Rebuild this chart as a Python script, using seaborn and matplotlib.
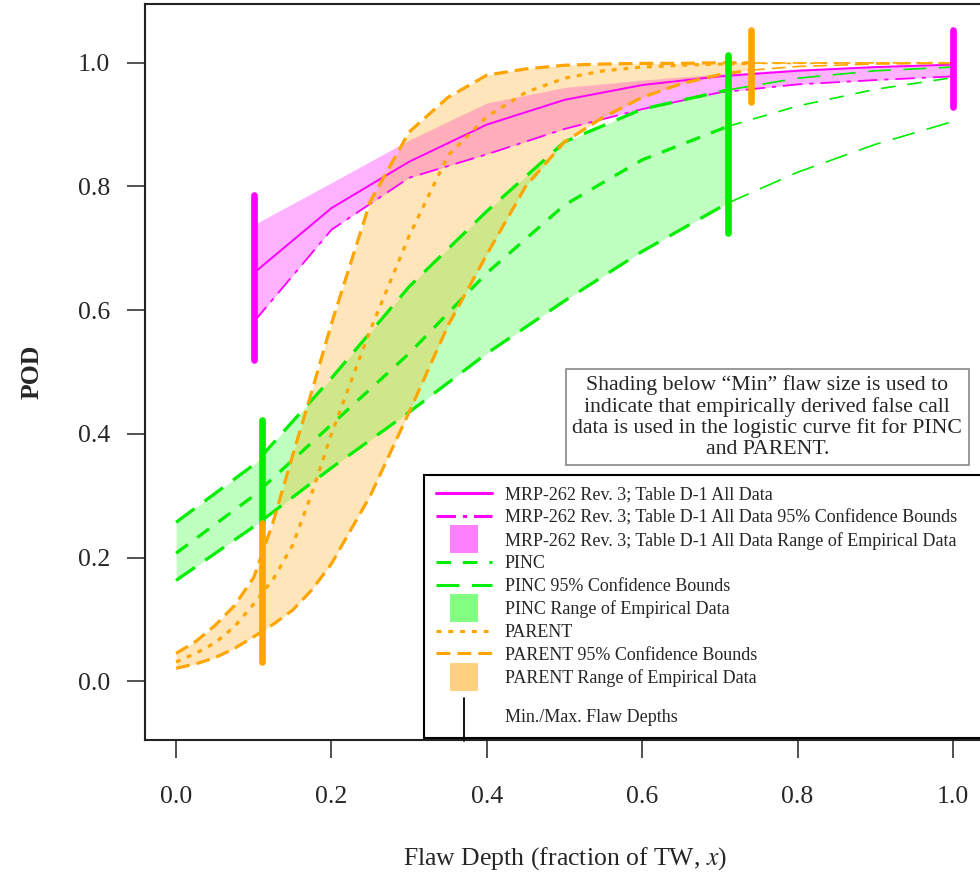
import numpy as np
import matplotlib
matplotlib.use("Agg")
import matplotlib.pyplot as plt
from matplotlib.lines import Line2D
from matplotlib.legend_handler import HandlerBase
import seaborn as sns

# ---------------- data ----------------
mrp_x = [0.1, 0.2, 0.3, 0.4, 0.5, 0.6, 0.7, 0.8, 0.9, 1.0]
mrp_fit = [0.660, 0.765, 0.840, 0.900, 0.940, 0.964, 0.978, 0.987, 0.993, 0.997]
mrp_lower = [0.581, 0.730, 0.814, 0.852, 0.893, 0.925, 0.952, 0.965, 0.972, 0.978]
mrp_upper = [0.738, 0.806, 0.875, 0.935, 0.960, 0.972, 0.982, 0.990, 0.995, 0.998]

pinc_x = [0.0, 0.1, 0.2, 0.3, 0.4, 0.5, 0.6, 0.71, 0.8, 0.9, 1.0]
pinc_fit = [0.207, 0.300, 0.415, 0.530, 0.660, 0.770, 0.843, 0.897, 0.930, 0.957, 0.976]
pinc_upper = [0.257, 0.350, 0.490, 0.638, 0.760, 0.872, 0.925, 0.956, 0.975, 0.987, 0.993]
pinc_lower = [0.163, 0.250, 0.345, 0.435, 0.530, 0.615, 0.695, 0.773, 0.823, 0.868, 0.905]

parent_x = [0.0, 0.025, 0.05, 0.075, 0.1, 0.125, 0.15, 0.175, 0.2, 0.25, 0.3, 0.35, 0.4, 0.45, 0.5,
            0.55, 0.6, 0.65, 0.7, 0.74, 0.8, 0.9, 1.0]
parent_fit = [0.031, 0.045, 0.062, 0.088, 0.125, 0.165, 0.220, 0.305, 0.400, 0.568, 0.720, 0.850, 0.913,
              0.952, 0.975, 0.987, 0.993, 0.996, 0.998, 0.999, 0.999, 1.000, 1.000]
parent_upper = [0.045, 0.064, 0.090, 0.122, 0.168, 0.258, 0.365, 0.470, 0.578, 0.776, 0.888, 0.944,
                0.980, 0.990, 0.996, 0.998, 0.999, 0.999, 1.000, 1.000, 1.000, 1.000, 1.000]
parent_lower = [0.021, 0.028, 0.038, 0.053, 0.072, 0.092, 0.115, 0.148, 0.190, 0.300, 0.435, 0.575,
                0.690, 0.800, 0.872, 0.912, 0.944, 0.966, 0.981, 0.988, 0.994, 0.998, 0.999]

# min / max flaw depth markers: x, low, high
mrp_minmax_x = [0.1, 1.0]
mrp_minmax_lo = [0.519, 0.929]
mrp_minmax_hi = [0.786, 1.053]
pinc_minmax_x = [0.111, 0.71]
pinc_minmax_lo = [0.256, 0.725]
pinc_minmax_hi = [0.422, 1.013]
parent_minmax_x = [0.111, 0.74]
parent_minmax_lo = [0.031, 0.937]
parent_minmax_hi = [0.256, 1.053]

pinc_max = 0.71
parent_max = 0.74

x_ticks = [0.0, 0.2, 0.4, 0.6, 0.8, 1.0]
y_ticks = [0.0, 0.2, 0.4, 0.6, 0.8, 1.0]

legend_labels = [
    "MRP-262 Rev. 3; Table D-1 All Data",
    "MRP-262 Rev. 3; Table D-1 All Data 95% Confidence Bounds",
    "MRP-262 Rev. 3; Table D-1 All Data Range of Empirical Data",
    "PINC",
    "PINC 95% Confidence Bounds",
    "PINC Range of Empirical Data",
    "PARENT",
    "PARENT 95% Confidence Bounds",
    "PARENT Range of Empirical Data",
    "\nMin./Max. Flaw Depths",
]
note_text = ("Shading below \u201cMin\u201d flaw size is used to\n"
             "indicate that empirically derived false call\n"
             "data is used in the logistic curve fit for PINC\n"
             "and PARENT.")

# ---------------- style ----------------
sns.set_style("ticks")
plt.rcParams['font.family'] = ['Liberation Serif', 'DejaVu Serif']
plt.rcParams['mathtext.fontset'] = 'stix'
plt.rcParams['lines.scale_dashes'] = False

MAG = '#FF00FF'
GRN = '#00EE00'
ORG = '#FFA500'

ls_mrp_fit = '-'
ls_mrp_cb = (0, (14, 5, 3, 5))
ls_pinc_fit = (0, (10.5, 8.5))
ls_pinc_cb = (0, (16.5, 9))
ls_par_fit = (0, (3.5, 5))
ls_par_cb = (0, (10, 5))

fig = plt.figure(figsize=(9.8, 8.75), dpi=100)
ax = fig.add_axes([145 / 980, 1 - 740 / 875, (984 - 145) / 980, (740 - 4) / 875])

mx = np.array(mrp_x)
px = np.array(pinc_x)
rx = np.array(parent_x)

# fills
ax.fill_between(mx, mrp_lower, mrp_upper, color=MAG, alpha=0.3, lw=0, zorder=1)
pm = px <= pinc_max
ax.fill_between(px[pm], np.array(pinc_lower)[pm], np.array(pinc_upper)[pm],
                color='#00FF00', alpha=0.25, lw=0, zorder=1.1)
rm = rx <= parent_max
ax.fill_between(rx[rm], np.array(parent_lower)[rm], np.array(parent_upper)[rm],
                color=ORG, alpha=0.27, lw=0, zorder=1.2)

# lines
def line(x, y, color, ls, lw):
    sns.lineplot(x=x, y=y, ax=ax, color=color, linestyle=ls, linewidth=lw,
                 errorbar=None, sort=False, zorder=3)

line(mx, mrp_fit, MAG, ls_mrp_fit, 1.4)
line(mx, mrp_lower, MAG, ls_mrp_cb, 1.3)

for ys, ls in [(pinc_fit, ls_pinc_fit), (pinc_upper, ls_pinc_cb), (pinc_lower, ls_pinc_cb)]:
    ys = np.array(ys)
    a = px <= pinc_max
    b = px >= pinc_max
    line(px[a], ys[a], GRN, ls, 2.3)
    line(px[b], ys[b], GRN, ls, 1.2)

for ys, ls in [(parent_fit, ls_par_fit), (parent_upper, ls_par_cb), (parent_lower, ls_par_cb)]:
    ys = np.array(ys)
    a = rx <= parent_max
    b = rx >= parent_max
    line(rx[a], ys[a], ORG, ls, 2.3)
    line(rx[b], ys[b], ORG, ls, 1.2)

# min/max flaw depth bars
for xs, lo, hi, c in [(mrp_minmax_x, mrp_minmax_lo, mrp_minmax_hi, MAG),
                      (pinc_minmax_x, pinc_minmax_lo, pinc_minmax_hi, GRN),
                      (parent_minmax_x, parent_minmax_lo, parent_minmax_hi, ORG)]:
    vl = ax.vlines(xs, lo, hi, colors=c, linewidth=4.8, zorder=5)
    vl.set_capstyle('round')

# axes
ax.set_xlim(-0.04, 1.04)
ax.set_ylim(-0.095, 1.095)
ax.set_xticks(x_ticks)
ax.set_yticks(y_ticks)
ax.set_xticklabels([f"{v:.1f}" for v in x_ticks])
ax.set_yticklabels([f"{v:.1f}" for v in y_ticks])
ax.tick_params(axis='both', direction='out', length=13, width=1.1, labelsize=18.5, color='#222222')
ax.tick_params(axis='x', pad=20)
ax.tick_params(axis='y', pad=12)
for s in ax.spines.values():
    s.set_linewidth(1.5)
    s.set_color('#222222')
ax.set_xlabel("Flaw Depth (fraction of TW, $x$)", fontsize=18.5, labelpad=27)
ax.set_ylabel("POD", fontsize=18.5, fontweight='bold', labelpad=25)

# note box
ax.text(0.761, 0.427, note_text, ha='center', va='center', fontsize=15.7,
        linespacing=1.11, zorder=6,
        bbox=dict(boxstyle='square,pad=0.3', fc='white', ec='#888888', lw=1.2))

# legend
class VBarHandler(HandlerBase):
    def create_artists(self, legend, orig_handle, xdescent, ydescent,
                       width, height, fontsize, trans):
        x = width / 2 - xdescent
        ln = Line2D([x, x], [-ydescent - 1.4 * fontsize, height - ydescent + 0.3 * fontsize],
                    color='black', lw=1.3, transform=trans)
        return [ln]

vbar = Line2D([], [], color='black')
handles = [
    Line2D([], [], color=MAG, lw=2.2, linestyle=ls_mrp_fit),
    Line2D([], [], color=MAG, lw=2.2, linestyle=ls_mrp_cb),
    Line2D([], [], color='#FF80FF', marker='s', markersize=20, markeredgewidth=0, linestyle='None'),
    Line2D([], [], color=GRN, lw=2.2, linestyle=ls_pinc_fit),
    Line2D([], [], color=GRN, lw=2.2, linestyle=ls_pinc_cb),
    Line2D([], [], color='#80FF80', marker='s', markersize=20, markeredgewidth=0, linestyle='None'),
    Line2D([], [], color=ORG, lw=2.2, linestyle=ls_par_fit),
    Line2D([], [], color=ORG, lw=2.2, linestyle=ls_par_cb),
    Line2D([], [], color='#FFD080', marker='s', markersize=20, markeredgewidth=0, linestyle='None'),
    vbar,
]
leg = ax.legend(handles, legend_labels, loc='upper left', mode='expand',
                bbox_to_anchor=(424 / 980, 1 - 740 / 875, 580 / 980, 265 / 875),
                bbox_transform=fig.transFigure,
                fontsize=13, frameon=True, fancybox=False, edgecolor='black',
                framealpha=1, borderpad=0.65, labelspacing=0.31, handlelength=3.1,
                handleheight=0.7, handletextpad=0.72, borderaxespad=0,
                handler_map={vbar: VBarHandler()})
leg.get_frame().set_linewidth(1.5)
leg.set_zorder(10)
texts = leg.get_texts()
texts[-1].set_linespacing(0.95)

fig.savefig("out.png", dpi=100)
